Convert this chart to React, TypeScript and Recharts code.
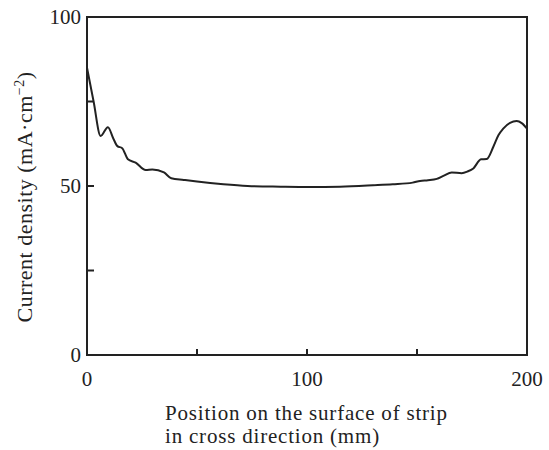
import { LineChart, Line, XAxis, YAxis, ReferenceArea, Label } from "recharts"

// position across the strip (mm)
const positions = [
  0, 3, 6.2, 9.5, 12, 13.8, 16, 18.6, 22.1, 26.7, 29.7, 35, 38.3, 44, 50, 62, 73, 88, 101, 115, 130, 139, 148,
  151.4, 155, 159, 162, 165.8, 170.3, 173, 175.6, 179.1, 181.7, 184.7, 187, 189.2, 192.3, 195.3, 197.6, 200,
]

// current density (mA·cm^-2)
const densities = [
  85, 75, 64.8, 67.4, 64, 61.8, 61.2, 57.9, 56.9, 54.7, 54.9, 54, 52.3, 51.8, 51.3, 50.5, 50, 49.8, 49.7, 49.8,
  50.2, 50.5, 51, 51.5, 51.7, 52.1, 53, 54, 53.8, 54.3, 55.2, 57.9, 58, 61.6, 65, 67, 68.7, 69.2, 68.6, 67,
]

const xTicks = [0, 50, 100, 150, 200]
const xLabels = [0, 100, 200]
const yTicks = [0, 25, 50, 75, 100]
const yLabels = [0, 50, 100]

const xTitle = ["Position on the surface of strip", "in cross direction (mm)"]

const data = positions.map((x, i) => ({ x, y: densities[i] }))

const FONT = "'Liberation Serif', 'DejaVu Serif', serif"
const INK = "#222"

const XTick = (props: any) => {
  const { x, y, payload } = props
  const v = payload.value
  return (
    <g>
      {v !== 0 && v !== 200 && <line x1={x} y1={y} x2={x} y2={y - 6} stroke={INK} strokeWidth={2} />}
      {xLabels.includes(v) && (
        <text x={x} y={y + 31} textAnchor="middle" fontSize={21} fontFamily={FONT} fill={INK}>
          {v}
        </text>
      )}
    </g>
  )
}

const YTick = (props: any) => {
  const { x, y, payload } = props
  const v = payload.value
  return (
    <g>
      {v !== 0 && v !== 100 && <line x1={x} y1={y} x2={x + 7} y2={y} stroke={INK} strokeWidth={2} />}
      {yLabels.includes(v) && (
        <text x={x - 6} y={y + 7} textAnchor="end" fontSize={21} fontFamily={FONT} fill={INK}>
          {v}
        </text>
      )}
    </g>
  )
}

const XTitle = (props: any) => {
  const { viewBox } = props
  const left = 157
  return (
    <text fontSize={21} fontFamily={FONT} fill={INK} letterSpacing={0.8}>
      <tspan x={left} y={viewBox.y + 65}>
        {xTitle[0]}
      </tspan>
      <tspan x={left} y={viewBox.y + 88}>
        {xTitle[1]}
      </tspan>
    </text>
  )
}

const YTitle = (props: any) => {
  const { viewBox } = props
  const cx = 24
  const cy = viewBox.y + viewBox.height / 2 + 11
  return (
    <text
      transform={`rotate(-90, ${cx}, ${cy})`}
      x={cx}
      y={cy}
      textAnchor="middle"
      fontSize={22}
      fontFamily={FONT}
      fill={INK}
      letterSpacing={0.5}
    >
      Current density (mA·cm
      <tspan dy={-8} fontSize={14}>
        −2
      </tspan>
      <tspan dy={8}>)</tspan>
    </text>
  )
}

export default function App() {
  return (
    <div style={{ position: "absolute", left: 8, top: 0, width: 541, height: 450, background: "#fff" }}>
      <LineChart width={541} height={450} data={data} margin={{ top: 17, right: 22, left: 0, bottom: 8 }}>
        <XAxis
          dataKey="x"
          type="number"
          domain={[0, 200]}
          ticks={xTicks}
          axisLine={false}
          tickLine={false}
          tickSize={0}
          tickMargin={0}
          tick={<XTick />}
          height={87}
          interval={0}
        >
          <Label content={<XTitle />} />
        </XAxis>
        <YAxis
          type="number"
          domain={[0, 100]}
          ticks={yTicks}
          axisLine={false}
          tickLine={false}
          tickSize={0}
          tickMargin={0}
          tick={<YTick />}
          width={79}
          interval={0}
        >
          <Label content={<YTitle />} />
        </YAxis>
        <ReferenceArea x1={0} x2={200} y1={0} y2={100} fill="none" stroke={INK} strokeWidth={2} />
        <Line
          type="monotone"
          dataKey="y"
          stroke={INK}
          strokeWidth={2}
          dot={false}
          isAnimationActive={false}
        />
      </LineChart>
    </div>
  )
}
